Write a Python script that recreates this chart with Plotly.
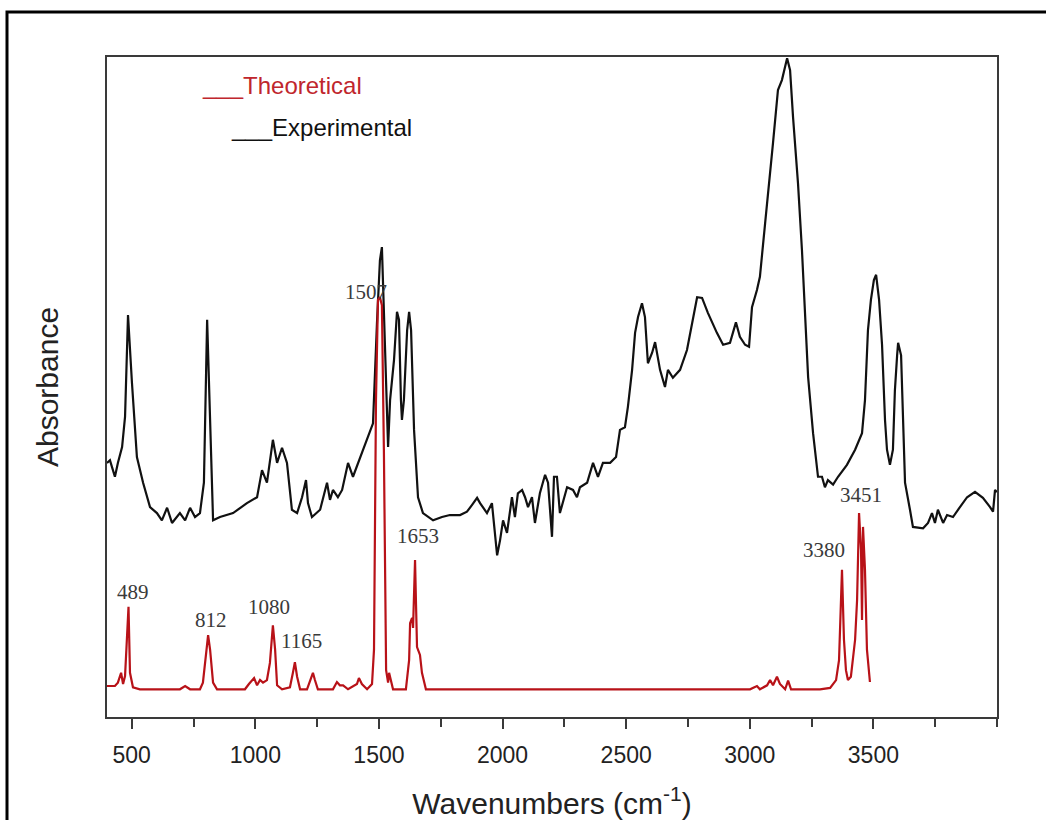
import plotly.graph_objects as go

# ---------------- data ----------------
exp_wn = [400, 412, 420, 432, 444, 461, 473, 485, 501, 521, 546, 574, 602, 622, 643, 663, 695, 716, 736, 756,
          776, 792, 805, 817, 829, 857, 910, 966, 1007, 1027, 1047, 1071, 1088, 1108, 1128, 1148, 1169, 1189,
          1205, 1213, 1229, 1262, 1290, 1302, 1314, 1334, 1351, 1375, 1395, 1436, 1476, 1492, 1504, 1512, 1525,
          1537, 1545, 1561, 1573, 1581, 1589, 1593, 1601, 1614, 1622, 1630, 1642, 1658, 1678, 1719, 1755, 1787,
          1828, 1856, 1876, 1897, 1909, 1937, 1957, 1978, 1990, 2002, 2018, 2038, 2050, 2062, 2079, 2091, 2103,
          2119, 2131, 2151, 2172, 2184, 2200, 2208, 2220, 2232, 2261, 2285, 2301, 2313, 2342, 2366, 2386, 2406,
          2435, 2459, 2475, 2495, 2507, 2524, 2536, 2548, 2564, 2576, 2588, 2605, 2617, 2637, 2657, 2669, 2689,
          2718, 2746, 2766, 2787, 2807, 2831, 2867, 2892, 2920, 2944, 2960, 2981, 2997, 3009, 3029, 3041, 3062,
          3082, 3094, 3114, 3130, 3151, 3163, 3175, 3195, 3211, 3223, 3236, 3256, 3276, 3292, 3304, 3316, 3337,
          3357, 3393, 3426, 3454, 3466, 3478, 3490, 3502, 3511, 3523, 3535, 3547, 3555, 3567, 3579, 3587, 3596,
          3600, 3612, 3616, 3624, 3628, 3648, 3660, 3701, 3721, 3737, 3749, 3761, 3782, 3798, 3822, 3850, 3879,
          3911, 3943, 3972, 3984, 3992, 4000]
exp_abs = [38.5, 38.9, 37.9, 36.4, 38.5, 40.9, 45.5, 60.9, 50.6, 39.4, 35.5, 31.8, 30.9, 29.8, 31.7, 29.4, 30.9,
           29.8, 31.7, 30.3, 30.9, 35.5, 60.2, 45.5, 29.8, 30.3, 30.9, 32.4, 33.3, 37.4, 35.5, 42.0, 38.5, 40.8,
           38.5, 31.4, 30.9, 33.3, 35.9, 32.4, 30.3, 31.4, 35.5, 32.9, 34.4, 33.3, 34.4, 38.5, 36.4, 40.5, 44.5,
           59.7, 69.2, 71.2, 55.6, 40.9, 48.0, 54.1, 61.4, 60.2, 48.0, 45.0, 48.0, 58.6, 61.4, 58.6, 43.5, 33.3,
           30.9, 29.8, 30.3, 30.6, 30.6, 31.1, 32.1, 33.2, 32.4, 30.9, 32.4, 24.5, 26.8, 29.8, 27.9, 33.3, 30.3,
           33.9, 34.4, 33.3, 31.8, 33.3, 29.4, 33.9, 36.7, 35.5, 27.3, 36.4, 36.4, 30.9, 34.8, 34.4, 33.3, 34.8,
           35.5, 38.5, 36.4, 38.5, 38.5, 39.4, 43.5, 43.9, 47.0, 52.6, 58.2, 60.6, 62.7, 60.6, 53.6, 55.2, 56.8,
           52.6, 50.0, 52.6, 51.4, 52.6, 55.6, 59.7, 63.6, 63.5, 61.2, 58.2, 56.4, 56.7, 59.8, 57.6, 56.4, 56.1,
           62.1, 64.7, 66.7, 74.8, 81.8, 87.0, 95.0, 96.5, 99.8, 98.0, 90.9, 80.9, 70.8, 60.6, 51.5, 43.0, 36.4,
           36.4, 34.8, 35.9, 35.2, 36.4, 38.2, 40.5, 43.0, 48.0, 58.6, 63.2, 66.2, 67.0, 63.2, 56.4, 45.0, 40.5,
           38.2, 40.5, 49.5, 54.8, 56.7, 54.8, 50.0, 42.0, 35.5, 31.4, 28.8, 28.6, 29.4, 30.9, 29.4, 31.4, 29.4,
           30.6, 30.3, 31.8, 33.3, 34.1, 33.2, 31.8, 31.1, 34.4, 34.1]

theo_wn = [400, 432, 444, 457, 465, 473, 487, 493, 505, 533, 695, 716, 736, 776, 788, 796, 805, 809, 817, 829,
           845, 958, 974, 995, 1007, 1019, 1031, 1047, 1059, 1067, 1071, 1080, 1088, 1108, 1140, 1152, 1160, 1169,
           1181, 1209, 1225, 1233, 1241, 1253, 1314, 1330, 1342, 1355, 1375, 1411, 1419, 1431, 1452, 1472, 1480,
           1488, 1496, 1504, 1512, 1520, 1529, 1537, 1541, 1549, 1557, 1609, 1622, 1626, 1634, 1638, 1646, 1650,
           1654, 1666, 1674, 1690, 3001, 3029, 3041, 3070, 3082, 3094, 3110, 3122, 3143, 3155, 3167, 3284, 3325,
           3349, 3361, 3373, 3381, 3389, 3397, 3409, 3426, 3434, 3442, 3450, 3454, 3458, 3466, 3474, 3482, 3486]
theo_abs = [4.7, 4.7, 5.2, 6.7, 5.0, 6.2, 16.7, 6.7, 4.5, 4.2, 4.2, 4.7, 4.2, 4.2, 5.2, 8.2, 11.7, 12.4, 10.2,
            5.2, 4.2, 4.2, 5.0, 5.9, 4.8, 5.6, 5.2, 5.6, 8.2, 13.2, 13.9, 10.2, 4.8, 4.2, 4.5, 6.7, 8.3, 6.1,
            4.2, 4.2, 6.1, 6.7, 5.6, 4.2, 4.2, 5.3, 4.8, 4.8, 4.2, 5.0, 5.9, 5.0, 4.2, 5.0, 10.2, 48.0, 63.2,
            63.6, 62.4, 40.5, 7.1, 5.2, 6.7, 5.2, 4.2, 4.2, 8.6, 14.2, 15.0, 13.5, 23.8, 17.0, 10.6, 9.4, 6.7,
            4.2, 4.2, 4.7, 4.2, 4.8, 5.6, 4.8, 6.1, 5.0, 4.2, 5.5, 4.2, 4.2, 4.4, 5.6, 8.6, 22.3, 11.7, 7.1,
            5.6, 6.1, 11.7, 17.7, 30.9, 25.3, 14.7, 28.8, 22.3, 10.2, 6.1, 5.3]

peak_labels = ["1507", "1653", "489", "812", "1080", "1165", "3380", "3451"]
peak_label_wn = [1448, 1658, 505, 821, 1055, 1185, 3300, 3450]
peak_label_abs = [64.4, 27.4, 18.9, 14.7, 16.7, 11.5, 25.3, 33.6]

x_tick_vals = [500, 1000, 1500, 2000, 2500, 3000, 3500]
x_tick_text = ["500", "1000", "1500", "2000", "2500", "3000", "3500"]

# ---------------- styles ----------------
RED = "#b81218"
AXIS = "#3a3a3a"
SANS = "Arial, Liberation Sans, sans-serif"
SERIF = "Times New Roman, Liberation Serif, serif"

fig = go.Figure()
fig.add_trace(go.Scatter(x=exp_wn, y=exp_abs, mode="lines", name="Experimental",
                         line=dict(color="#111111", width=2.2), showlegend=False))
fig.add_trace(go.Scatter(x=theo_wn, y=theo_abs, mode="lines", name="Theoretical",
                         line=dict(color=RED, width=2.2), showlegend=False))

for txt, xv, yv in zip(peak_labels, peak_label_wn, peak_label_abs):
    fig.add_annotation(x=xv, y=yv, xref="x", yref="y", text=txt, showarrow=False,
                       font=dict(family=SERIF, size=21, color="#3a3a3a"))

# legend written as text
fig.add_annotation(x=(200 - 107) / 890, y=(717 - 85) / 660, xref="paper", yref="paper",
                   xanchor="left", yanchor="middle", text="___Theoretical", showarrow=False,
                   font=dict(family=SANS, size=24, color="#c0262d"))
fig.add_annotation(x=(229 - 107) / 890, y=(717 - 128) / 660, xref="paper", yref="paper",
                   xanchor="left", yanchor="middle", text="___Experimental", showarrow=False,
                   font=dict(family=SANS, size=24, color="#111111"))

# outer frame
fig.add_shape(type="rect", xref="paper", yref="paper",
              x0=(7 - 107) / 890, x1=(1080 - 107) / 890,
              y0=(717 - 860) / 660, y1=(717 - 12) / 660,
              line=dict(color="#000000", width=3), layer="above")

fig.update_layout(
    width=1046, height=820,
    margin=dict(l=107, r=49, t=57, b=103, autoexpand=False),
    paper_bgcolor="white", plot_bgcolor="white",
    font=dict(family=SANS, color="#222222"),
    showlegend=False,
)
fig.update_xaxes(
    range=[400, 4000], tickvals=x_tick_vals, ticktext=x_tick_text,
    ticks="outside", ticklen=10, tickwidth=2, tickcolor=AXIS,
    minor=dict(dtick=250, tick0=0, ticks="outside", ticklen=8, tickwidth=2, tickcolor=AXIS),
    showline=True, linewidth=2, linecolor=AXIS, mirror=True,
    showgrid=False, zeroline=False, automargin=False,
    tickfont=dict(family=SANS, size=23, color="#222222"),
    ticklabelstandoff=6,
    title=dict(text="Wavenumbers (cm<sup>-1</sup>)", font=dict(family=SANS, size=30, color="#222222"),
               standoff=32),
)
fig.update_yaxes(
    range=[0, 100], showticklabels=False, ticks="",
    showline=True, linewidth=2, linecolor=AXIS, mirror=True,
    showgrid=False, zeroline=False, automargin=False,
    title=dict(text="Absorbance", font=dict(family=SANS, size=30, color="#222222"), standoff=38),
)

fig.write_html("out.html")
